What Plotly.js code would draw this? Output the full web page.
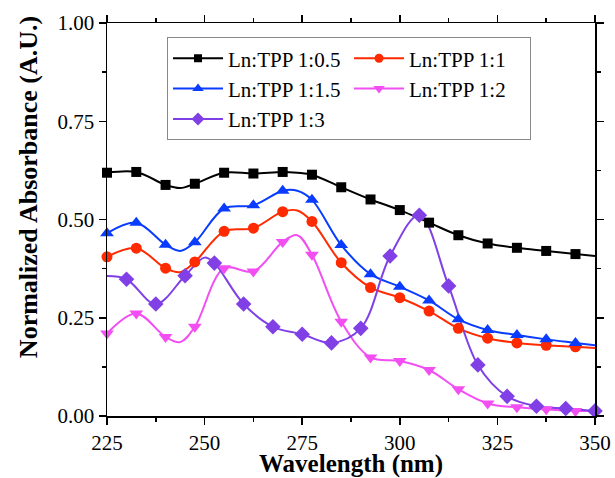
<!DOCTYPE html>
<html>
<head>
<meta charset="utf-8">
<script src="https://cdn.plot.ly/plotly-3.0.1.min.js"></script>
<style>html,body{margin:0;padding:0;background:#fff;}#chart{width:615px;height:478px;}</style>
</head>
<body>
<div id="chart"></div>
<script>
// Wavelength grids (nm); marker flag 1 = marker drawn, 0 = curve point only
const xMain = [225, 232.5, 240, 243.75, 247.5, 255, 262.5, 270, 273.75, 277.5, 285, 292.5, 300, 307.5, 315, 322.5, 330, 337.5, 345, 350];
const mMain = [1, 1, 1, 0, 1, 1, 1, 1, 0, 1, 1, 1, 1, 1, 1, 1, 1, 1, 1, 0];
const xViolet = [225, 230, 237.5, 245, 250, 252.5, 260, 267.5, 275, 282.5, 290, 297.5, 305, 312.5, 320, 327.5, 335, 342.5, 350];
const mViolet = [0, 1, 1, 1, 0, 1, 1, 1, 1, 1, 1, 1, 1, 1, 1, 1, 1, 1, 1];

const names = ["Ln:TPP 1:0.5", "Ln:TPP 1:1", "Ln:TPP 1:1.5", "Ln:TPP 1:2", "Ln:TPP 1:3"];

const y05  = [0.619, 0.621, 0.588, 0.580, 0.591, 0.619, 0.617, 0.621, 0.619, 0.614, 0.582, 0.551, 0.524, 0.492, 0.460, 0.439, 0.428, 0.420, 0.412, 0.407];
const y1   = [0.405, 0.427, 0.376, 0.366, 0.392, 0.470, 0.478, 0.520, 0.523, 0.495, 0.390, 0.327, 0.301, 0.267, 0.223, 0.198, 0.186, 0.180, 0.176, 0.173];
const y15  = [0.465, 0.492, 0.436, 0.420, 0.442, 0.528, 0.536, 0.573, 0.573, 0.550, 0.435, 0.361, 0.329, 0.294, 0.246, 0.219, 0.206, 0.195, 0.186, 0.180];
const y2   = [0.210, 0.261, 0.201, 0.188, 0.227, 0.376, 0.368, 0.443, 0.460, 0.410, 0.240, 0.149, 0.140, 0.117, 0.068, 0.032, 0.022, 0.017, 0.013, 0.013];
const y3   = [0.356, 0.348, 0.285, 0.357, 0.403, 0.389, 0.285, 0.227, 0.208, 0.186, 0.223, 0.407, 0.511, 0.331, 0.130, 0.050, 0.025, 0.019, 0.013];

const xTicks = [225, 250, 275, 300, 325, 350];
const yTicks = [0, 0.25, 0.5, 0.75, 1.0];

const colors = ["#000000", "#ff2a00", "#0a3cff", "#f24ff2", "#8040e6"];
const symbols = ["square", "circle", "triangle-up", "triangle-down", "diamond"];
const sizes = [10, 11, 12, 12, 12];

const series = [
  {x: xMain, y: y05, m: mMain},
  {x: xMain, y: y1, m: mMain},
  {x: xMain, y: y15, m: mMain},
  {x: xMain, y: y2, m: mMain},
  {x: xViolet, y: y3, m: mViolet}
];

const data = [];
series.forEach((s, i) => {
  data.push({
    x: s.x, y: s.y, mode: "lines", type: "scatter",
    line: {color: colors[i], width: 2, shape: "spline", smoothing: 1},
    showlegend: false, hoverinfo: "skip", cliponaxis: false
  });
});
series.forEach((s, i) => {
  const mx = [], my = [];
  s.x.forEach((v, k) => { if (s.m[k]) { mx.push(v); my.push(s.y[k]); } });
  data.push({
    x: mx, y: my, mode: "markers", type: "scatter", name: names[i],
    marker: {color: colors[i], symbol: symbols[i], size: sizes[i]},
    showlegend: false, cliponaxis: false
  });
});
names.forEach((n, i) => {
  data.push({
    x: [null], y: [null], mode: "lines+markers", type: "scatter", name: n,
    line: {color: colors[i], width: 2},
    marker: {color: colors[i], symbol: symbols[i], size: sizes[i] - 2}
  });
});

const FF = "Liberation Serif";
const pad = "\u00a0".repeat(10);

const layout = {
  width: 615, height: 478,
  margin: {l: 107, r: 20, t: 23, b: 62},
  paper_bgcolor: "#fff", plot_bgcolor: "#fff",
  font: {family: FF, size: 21, color: "#000"},
  xaxis: {
    range: [225, 350], tickvals: xTicks, ticktext: xTicks.map(String),
    ticks: "outside", ticklen: 7, tickwidth: 1.5, tickcolor: "#000",
    showline: true, linecolor: "#000", linewidth: 1.5, mirror: "ticks",
    showgrid: false, zeroline: false,
    tickfont: {family: FF, size: 21, color: "#000"},
    minor: {dtick: 12.5, tick0: 225, ticks: "outside", ticklen: 4, tickwidth: 1.5, tickcolor: "#000", showgrid: false},
    title: {text: "<b>Wavelength (nm)</b>", font: {family: FF, size: 25, color: "#000"}, standoff: 4}
  },
  yaxis: {
    range: [0, 1.0], tickvals: yTicks, ticktext: yTicks.map(v => v.toFixed(2)),
    ticks: "outside", ticklen: 7, tickwidth: 1.5, tickcolor: "#000",
    showline: true, linecolor: "#000", linewidth: 1.5, mirror: "ticks",
    showgrid: false, zeroline: false,
    tickfont: {family: FF, size: 21, color: "#000"},
    minor: {dtick: 0.125, tick0: 0, ticks: "outside", ticklen: 4, tickwidth: 1.5, tickcolor: "#000", showgrid: false},
    title: {text: "<b>" + pad + "Normalized Absorbance (A.U.)</b>", font: {family: FF, size: 26, color: "#000"}, standoff: 12}
  },
  legend: {
    orientation: "h", x: 0.123, y: 0.964, xanchor: "left", yanchor: "top",
    bgcolor: "#fff", bordercolor: "#888", borderwidth: 1,
    font: {family: FF, size: 21, color: "#000"},
    entrywidth: 116, entrywidthmode: "pixels", tracegroupgap: 0,
    itemwidth: 50
  },
  showlegend: true
};

Plotly.newPlot("chart", data, layout, {displayModeBar: false, staticPlot: true});
</script>
</body>
</html>
